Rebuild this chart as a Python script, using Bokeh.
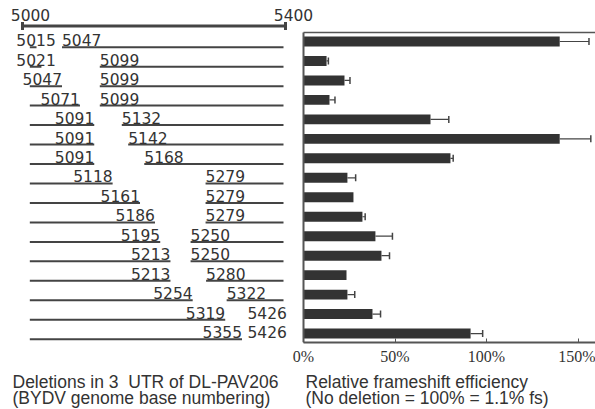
import numpy as np
from bokeh.plotting import figure
from bokeh.layouts import column
from bokeh.models import (Range1d, LinearScale, LogScale, LinearAxis, FixedTicker,
                          PrintfTickFormatter)
from bokeh.core.properties import value
from bokeh.embed import file_html
from bokeh.resources import INLINE

# ---------------- data ----------------
del_start = [5015, 5021, 5047, 5071, 5091, 5091, 5091, 5118, 5161, 5186, 5195, 5213, 5213, 5254, 5319, 5355]
del_end = [5047, 5099, 5099, 5099, 5132, 5142, 5168, 5279, 5279, 5279, 5250, 5250, 5280, 5322, 5426, 5426]
efficiency = [140, 12.6, 22.4, 14.2, 69.4, 140, 80.3, 24, 27.3, 32.2, 39.3, 42.6, 23.5, 24, 37.7, 91.3]
error = [16, 1, 3, 3, 10, 17, 1.5, 4.5, 0, 1.5, 9.3, 4.4, 0, 4, 4.4, 6.6]
scale_ends = [5000, 5400]
pct_ticks = [0, 50, 100, 150]
caption_left = ["Deletions in 3\u00a0 UTR of DL-PAV206", "(BYDV genome base numbering)"]
caption_right = ["Relative frameshift efficiency", "(No deletion = 100% = 1.1% fs)"]

# ---------------- layout helpers ----------------
W = 595
H_MAIN, H_CAP = 368, 41
FRAME_L, FRAME_R = 0, W
TXT_SHIFT = 5.0   # renderer places alphabetic baseline this many px low

def lin_range(v0, p0, v1, p1):
    k = (p1 - p0) / (v1 - v0)
    return Range1d(v0 + (FRAME_L - p0) / k, v0 + (FRAME_R - p0) / k)

# bars: 0% at x=303, 1.83 px per %
bars_range = lin_range(0, 303, 100, 303 + 183)
# scale bar: 5000 at 22, 5400 at 285
scale_range = lin_range(5000, 22, 5400, 285)
# schematic rows: log-spaced drawing (offset 4600)
OFF = 4600
l0, l1 = np.log(5015 - OFF), np.log(5355 - OFF)
k = (241.5 - 36) / (l1 - l0)
rows_range = Range1d(float(np.exp(l0 + (FRAME_L - 36) / k)), float(np.exp(l0 + (FRAME_R - 36) / k)))

ROW_PX = 19.47
n = len(del_start)
idx = np.arange(n)
y_top, y_bot = -41 / ROW_PX, 15.46      # frame covers y 0..342

p = figure(width=W, height=H_MAIN, output_backend="svg", toolbar_location=None,
           x_axis_type=None, y_axis_type=None,
           x_range=bars_range, y_range=Range1d(y_bot, y_top),
           min_border_left=0, min_border_right=0, min_border_top=0,
           min_border_bottom=H_MAIN - 342)
p.outline_line_color = None
p.extra_x_ranges = {"rows": rows_range, "scale": scale_range}
p.extra_x_scales = {"rows": LogScale(), "scale": LinearScale()}

TXT = "#333333"
LINE = "#444444"
NUM_FONT = value("DejaVu Sans")
NUM_SIZE = "15.5px"

# ---------------- scale bar ----------------
sb_y = (25.5 - 41) / ROW_PX
p.segment(x0=[scale_ends[0]], x1=[scale_ends[1]], y0=[sb_y], y1=[sb_y],
          x_range_name="scale", line_color=LINE, line_width=3)
p.scatter(x=scale_ends, y=[sb_y] * 2, marker="dash", angle=np.pi / 2, size=8,
          line_width=3, line_color=LINE, x_range_name="scale")
p.text(x=scale_ends, y=[sb_y - (5.5 + TXT_SHIFT) / ROW_PX] * 2, text=[str(v) for v in scale_ends],
       x_range_name="scale", text_align="center", text_baseline="alphabetic",
       x_offset=8, text_font=NUM_FONT, text_font_size=NUM_SIZE, text_color=TXT)

# ---------------- deletion schematic ----------------
line_from, line_to = 5007, 5452
row_y = idx + 5.7 / ROW_PX
lab_y = row_y - (2 + TXT_SHIFT) / ROW_PX
s = np.array(del_start)
e = np.array(del_end)
p.segment(x0=[line_from - OFF] * n, x1=s - OFF, y0=row_y, y1=row_y,
          x_range_name="rows", line_color=LINE, line_width=2)
m = e < scale_ends[1]
p.segment(x0=e[m] - OFF, x1=[line_to - OFF] * int(m.sum()), y0=row_y[m], y1=row_y[m],
          x_range_name="rows", line_color=LINE, line_width=2)
p.text(x=np.maximum(s, 5039) - OFF, y=lab_y, text=[str(v) for v in s],
       x_range_name="rows", text_align="right", text_baseline="alphabetic",
       text_font=NUM_FONT, text_font_size=NUM_SIZE, text_color=TXT)
p.text(x=np.minimum(e, 5367) - OFF, y=lab_y, text=[str(v) for v in e],
       x_range_name="rows", text_align="left", text_baseline="alphabetic",
       text_font=NUM_FONT, text_font_size=NUM_SIZE, text_color=TXT)

# ---------------- bar chart ----------------
eff = np.array(efficiency)
err = np.array(error)
p.hbar(y=idx, left=0, right=eff, height=0.51, fill_color="#333333", line_color=None)
me = err > 0
p.segment(x0=eff[me], x1=(eff + err)[me], y0=idx[me], y1=idx[me], line_color=LINE, line_width=1.2)
p.scatter(x=(eff + err)[me], y=idx[me], marker="dash", angle=np.pi / 2, size=7,
          line_width=1.5, line_color=LINE)

bar_top = -9 / ROW_PX
p.segment(x0=[0], x1=[bars_range.end], y0=[bar_top], y1=[bar_top], line_color="#555555", line_width=1.5)
p.segment(x0=[0], x1=[0], y0=[bar_top], y1=[y_bot], line_color="#555555", line_width=2)

ax = LinearAxis(ticker=FixedTicker(ticks=pct_ticks), formatter=PrintfTickFormatter(format="%d%%"),
                bounds=(0, bars_range.end))
ax.axis_line_color = "#555555"
ax.axis_line_width = 2
ax.major_tick_in = 4
ax.major_tick_out = 0
ax.major_tick_line_color = "#555555"
ax.minor_tick_line_color = None
ax.major_label_standoff = 5
ax.major_label_text_font = "Liberation Sans Narrow"
ax.major_label_text_font_size = "16px"
ax.major_label_text_color = TXT
p.add_layout(ax, "below")

# ---------------- captions (separate strip below) ----------------
cap = figure(width=W, height=H_CAP, output_backend="svg", toolbar_location=None,
             x_axis_type=None, y_axis_type=None,
             x_range=bars_range, y_range=Range1d(H_CAP, 0),
             min_border_left=0, min_border_right=0, min_border_top=0, min_border_bottom=0)
cap.outline_line_color = None
cap.extra_x_ranges = {"scale": scale_range}
cap.extra_x_scales = {"scale": LinearScale()}
cap_base = [386 - H_MAIN - TXT_SHIFT, 402 - H_MAIN - TXT_SHIFT]
cap.text(x=[scale_range.start] * 2, y=cap_base, text=caption_left, x_range_name="scale",
         x_offset=12, text_baseline="alphabetic", text_font=value("Liberation Sans"),
         text_font_size="17.5px", text_color=TXT)
cap.text(x=[0, 0], y=cap_base, text=caption_right, x_offset=2,
         text_baseline="alphabetic", text_font=value("Liberation Sans"),
         text_font_size="17.5px", text_color=TXT)

layout = column(p, cap, spacing=0)
open("out.html", "w").write(file_html(layout, INLINE))
